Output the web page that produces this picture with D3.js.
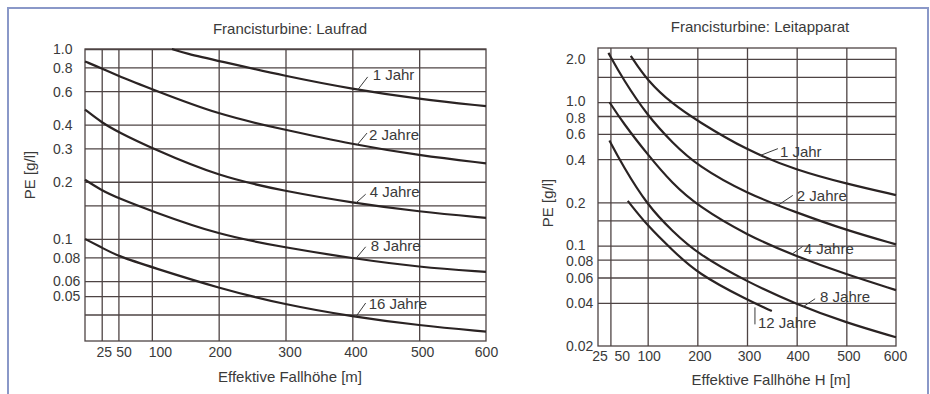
<!DOCTYPE html>
<html>
<head>
<meta charset="utf-8">
<script src="https://cdn.jsdelivr.net/npm/d3@7"></script>
<style>
  body { margin: 0; background: #fff; }
  svg text { font-family: "Liberation Sans", Arial, sans-serif; font-size: 15px; fill: #3a3a3a; }
  svg .ticklab text { font-size: 14px; }
</style>
</head>
<body>
<svg id="chart" width="930" height="394"></svg>
<script>
// ---- Laufrad (left chart)
const laufradNames = ["1 Jahr", "2 Jahre", "4 Jahre", "8 Jahre", "16 Jahre"];
const laufrad1 = [[130, 1.0], [150, 0.95], [200, 0.865], [300, 0.72], [400, 0.615], [500, 0.545], [600, 0.5]];
const laufrad2 = [[0, 0.86], [25, 0.79], [50, 0.72], [100, 0.615], [200, 0.45], [300, 0.375], [400, 0.315], [500, 0.275], [600, 0.25]];
const laufrad4 = [[0, 0.48], [25, 0.41], [50, 0.365], [100, 0.3], [200, 0.213], [300, 0.178], [400, 0.155], [500, 0.139], [600, 0.129]];
const laufrad8 = [[0, 0.205], [25, 0.18], [50, 0.164], [100, 0.14], [200, 0.105], [300, 0.09], [400, 0.079], [500, 0.071], [600, 0.067]];
const laufrad16 = [[0, 0.1], [25, 0.09], [50, 0.081], [100, 0.071], [200, 0.055], [300, 0.045], [400, 0.039], [500, 0.035], [600, 0.0325]];
const laufradLabelH = [408, 407, 405, 405, 405];
const laufradYTicks = ["1.0", "0.8", "0.6", "0.4", "0.3", "0.2", "0.1", "0.08", "0.06", "0.05"];
const laufradYGrid = [1.0, 0.8, 0.6, 0.4, 0.3, 0.2, 0.15, 0.1, 0.08, 0.06, 0.05, 0.04];
const laufradXTicks = [25, 50, 100, 200, 300, 400, 500, 600];
const laufradXGrid = [25, 50, 100, 200, 300, 400, 500];

// ---- Leitapparat (right chart)
const leitNames = ["1 Jahr", "2 Jahre", "4 Jahre", "8 Jahre", "12 Jahre"];
const leit1 = [[66, 2.1], [100, 1.4], [150, 0.97], [200, 0.74], [300, 0.46], [400, 0.335], [500, 0.27], [600, 0.225]];
const leit2 = [[21, 2.2], [50, 1.45], [100, 0.8], [150, 0.52], [200, 0.36], [300, 0.23], [400, 0.17], [500, 0.128], [600, 0.102]];
const leit4 = [[23, 1.0], [50, 0.72], [100, 0.43], [150, 0.27], [200, 0.19], [300, 0.118], [400, 0.084], [500, 0.063], [600, 0.049]];
const leit8 = [[23, 0.54], [50, 0.36], [100, 0.19], [150, 0.126], [200, 0.088], [300, 0.056], [400, 0.039], [500, 0.029], [600, 0.023]];
const leit12 = [[60, 0.205], [100, 0.137], [150, 0.093], [200, 0.064], [300, 0.042], [350, 0.035]];
const leitLabelH = [326, 362, 390, 413, 316];
const leitYTicks = ["2.0", "1.0", "0.8", "0.6", "0.4", "0.2", "0.1", "0.08", "0.06", "0.04", "0.02"];
const leitYGrid = [2.0, 1.5, 1.0, 0.8, 0.6, 0.4, 0.2, 0.15, 0.1, 0.08, 0.06, 0.04];
const leitXTicks = [25, 50, 100, 200, 300, 400, 500, 600];
const leitXGrid = [25, 100, 200, 300, 400, 500];

const svg = d3.select("#chart");

// outer frame
svg.append("rect")
  .attr("x", 8).attr("y", 8).attr("width", 920).attr("height", 400)
  .attr("fill", "none").attr("stroke", "#8a98c8").attr("stroke-width", 2);

// log-linear interpolation on a series to place the label leaders on the curve
function valueAt(series, h) {
  for (let i = 1; i < series.length; i++) {
    const a = series[i - 1], b = series[i];
    if (h <= b[0]) {
      const t = (h - a[0]) / (b[0] - a[0]);
      return Math.pow(10, Math.log10(a[1]) + t * (Math.log10(b[1]) - Math.log10(a[1])));
    }
  }
  return series[series.length - 1][1];
}

function drawChart(cfg) {
  const x = d3.scaleLinear().domain([0, 600]).range(cfg.xRange);
  const y = d3.scaleLog().domain(cfg.yDomain).range(cfg.yRange);
  const left = cfg.xRange[0], right = cfg.xRange[1];
  const top = cfg.yRange[1], bottom = cfg.yRange[0];
  const g = svg.append("g");

  // grid
  g.append("g")
    .attr("transform", "translate(" + left + ",0)")
    .call(d3.axisLeft(y).tickValues(cfg.yGrid).tickSize(-(right - left)).tickFormat(""))
    .call(a => a.select(".domain").remove())
    .selectAll("line").attr("stroke", "#4e4444").attr("stroke-width", 1.3);

  g.append("g")
    .attr("transform", "translate(0," + bottom + ")")
    .call(d3.axisBottom(x).tickValues(cfg.xGrid).tickSize(-(bottom - top)).tickFormat(""))
    .call(a => a.select(".domain").remove())
    .selectAll("line").attr("stroke", "#4e4444").attr("stroke-width", 1.3);

  g.append("rect")
    .attr("x", left).attr("y", top).attr("width", right - left).attr("height", bottom - top)
    .attr("fill", "none").attr("stroke", "#4e4444").attr("stroke-width", 1.3);

  // y tick labels (left aligned)
  const yLab = g.append("g")
    .attr("class", "ticklab")
    .attr("transform", "translate(" + left + ",0)")
    .call(d3.axisLeft(y).tickValues(cfg.yTicks.map(Number)).tickSize(0)
      .tickFormat((d, i) => cfg.yTicks[i]));
  yLab.select(".domain").remove();
  yLab.selectAll("text")
    .attr("x", cfg.yLabelX - left)
    .attr("y", (d, i) => cfg.yLabelDy[cfg.yTicks[i]] || 0)
    .attr("dy", "0.35em")
    .attr("text-anchor", "start")
    .attr("fill", null);
  yLab.attr("font-size", null).attr("font-family", null);

  // x tick labels
  const xLab = g.append("g")
    .attr("class", "ticklab")
    .attr("transform", "translate(0," + bottom + ")")
    .call(d3.axisBottom(x).tickValues(cfg.xTicks).tickSize(0));
  xLab.select(".domain").remove();
  xLab.selectAll("text")
    .attr("y", cfg.xLabelY - bottom).attr("dy", "0.35em")
    .attr("dx", d => cfg.xLabelDx[d] || 0)
    .attr("fill", null);
  xLab.attr("font-size", null).attr("font-family", null);

  // curves
  const line = d3.line()
    .x(d => x(d[0])).y(d => y(d[1]))
    .curve(d3.curveBasis);

  g.append("g").selectAll("path")
    .data(cfg.series)
    .join("path")
    .attr("d", line)
    .attr("fill", "none")
    .attr("stroke", "#2a2323")
    .attr("stroke-width", 2.2);

  // curve labels with leader lines
  cfg.names.forEach((name, i) => {
    const h = cfg.labelH[i];
    const ax = x(h), ay = y(valueAt(cfg.series[i], h));
    const o = cfg.leaders[i];
    g.append("line")
      .attr("x1", ax + o[0]).attr("y1", ay + o[1])
      .attr("x2", ax + o[2]).attr("y2", ay + o[3])
      .attr("stroke", "#3a3a3a").attr("stroke-width", 1);
    g.append("text")
      .attr("x", ax + o[4]).attr("y", ay + o[5])
      .attr("dy", "0.35em")
      .text(name);
  });

  // titles
  g.append("text")
    .attr("x", cfg.titlePos[0]).attr("y", cfg.titlePos[1]).attr("dy", "0.35em")
    .attr("text-anchor", "middle").text(cfg.title);
  g.append("text")
    .attr("x", cfg.xTitlePos[0]).attr("y", cfg.xTitlePos[1]).attr("dy", "0.35em")
    .attr("text-anchor", "middle").text(cfg.xTitle);
  g.append("text")
    .attr("transform", "translate(" + cfg.yTitlePos[0] + "," + cfg.yTitlePos[1] + ") rotate(-90)")
    .attr("dy", "0.35em")
    .attr("text-anchor", "middle").text("PE [g/l]");
}

drawChart({
  xRange: [85, 486], yDomain: [0.029, 1], yRange: [341, 49],
  yGrid: laufradYGrid, xGrid: laufradXGrid, yTicks: laufradYTicks, xTicks: laufradXTicks,
  yLabelX: 53, xLabelY: 352, yLabelDy: {},
  xLabelDx: {25: 2, 50: 5, 100: 8, 200: 1, 300: 4, 400: 3, 500: 3, 600: 0},
  series: [laufrad1, laufrad2, laufrad4, laufrad8, laufrad16],
  names: laufradNames, labelH: laufradLabelH,
  leaders: [
    [0, 0, 10, -13, 15, -15],
    [0, 0, 10, -12, 12, -10],
    [0, 0, 10, -9, 14, -11],
    [0, 0, 10, -12, 15, -13],
    [0, 0, 10, -14, 13, -13]
  ],
  title: "Francisturbine: Laufrad", titlePos: [290, 29],
  xTitle: "Effektive Fallhöhe [m]", xTitlePos: [290, 377],
  yTitlePos: [30, 175]
});

drawChart({
  xRange: [598, 896], yDomain: [0.02, 2.38], yRange: [346, 48],
  yGrid: leitYGrid, xGrid: leitXGrid, yTicks: leitYTicks, xTicks: leitXTicks,
  yLabelX: 566, xLabelY: 356, yLabelDy: {"1.0": -1.5, "0.8": 1.5, "0.1": -1.5, "0.08": 1.5},
  xLabelDx: {25: -11, 50: -1, 100: 1, 200: 2, 300: 2, 400: 1, 500: 2, 600: -1},
  series: [leit1, leit2, leit4, leit8, leit12],
  names: leitNames, labelH: leitLabelH,
  leaders: [
    [0, 0, 18, -7, 20, -4],
    [0, 0, 15, -10, 19, -10],
    [0, 0, 11, -8, 12, -6],
    [0, 0, 12, -8, 17, -10],
    [0, 4, 0, 21, 3, 19]
  ],
  title: "Francisturbine: Leitapparat", titlePos: [760, 27],
  xTitle: "Effektive Fallhöhe H [m]", xTitlePos: [771, 380],
  yTitlePos: [548, 203]
});
</script>
</body>
</html>
